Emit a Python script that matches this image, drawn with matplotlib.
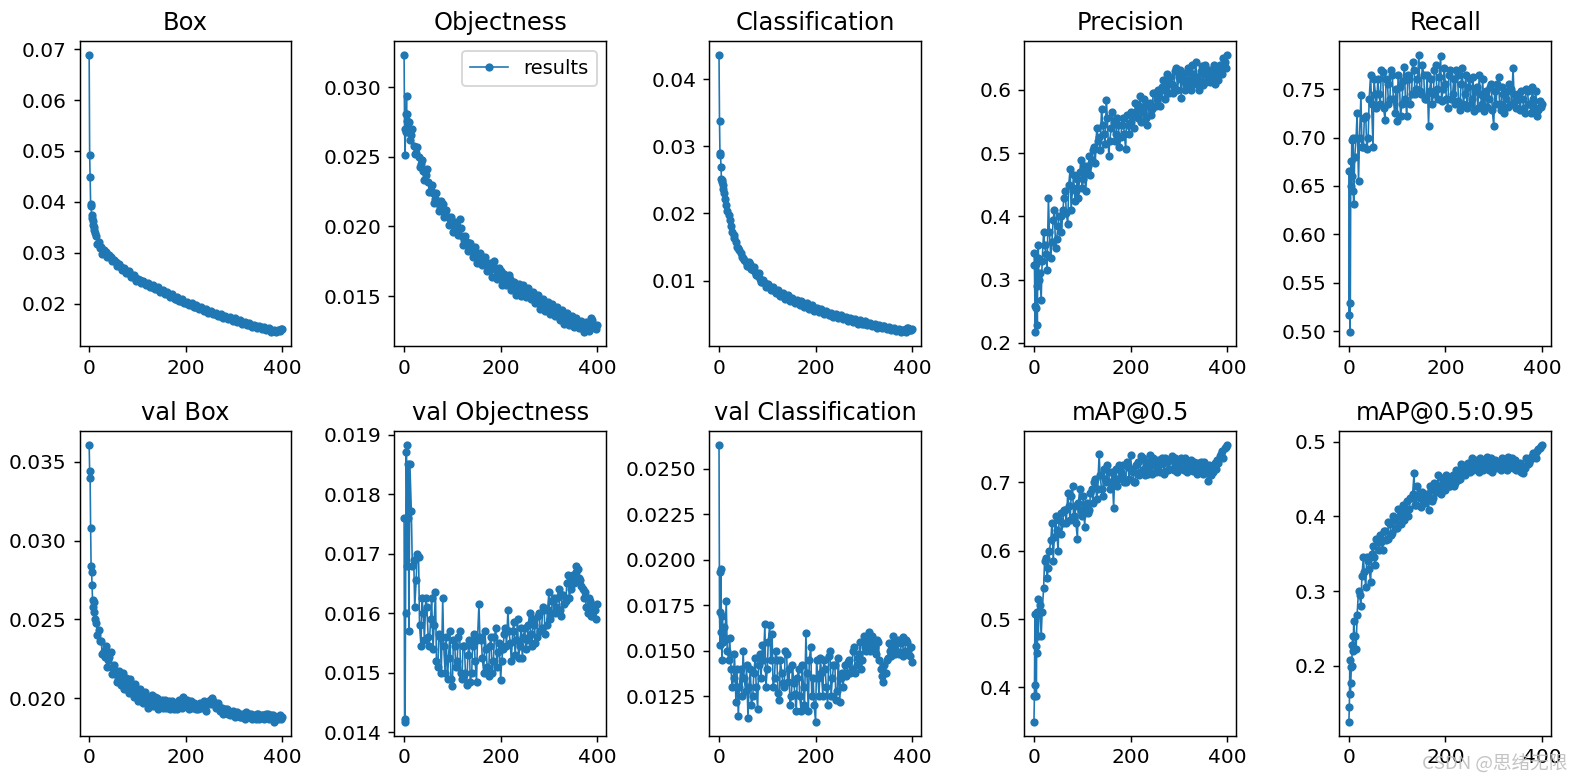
import matplotlib
matplotlib.use("Agg")
import matplotlib.pyplot as plt
from matplotlib.ticker import MultipleLocator

# epochs sampled from the training log: every epoch at the start, then two interleaved samples every 5
epochs = list(range(10)) + list(range(10, 400, 5)) + [399]
epochs_b = list(range(12, 400, 5))

titles = ['Box', 'Objectness', 'Classification', 'Precision', 'Recall',
          'val Box', 'val Objectness', 'val Classification', 'mAP@0.5', 'mAP@0.5:0.95']
tick_steps = [0.01, 0.005, 0.01, 0.1, 0.05, 0.005, 0.001, 0.0025, 0.1, 0.1]

box = [0.0688, 0.0492, 0.0449, 0.0396, 0.0392, 0.0374, 0.0368, 0.0362, 0.0355, 0.0350,
       0.0345, 0.0333, 0.0321, 0.0312, 0.0306, 0.0301, 0.0296, 0.0292, 0.0285, 0.0281,
       0.0276, 0.0272, 0.0268, 0.0266, 0.0262, 0.0258, 0.0255, 0.0251, 0.0248, 0.0246,
       0.0243, 0.0240, 0.0238, 0.0235, 0.0233, 0.0231, 0.0229, 0.0227, 0.0225, 0.0223,
       0.0221, 0.0218, 0.0216, 0.0213, 0.0210, 0.0208, 0.0206, 0.0204, 0.0202, 0.0200,
       0.0199, 0.0196, 0.0194, 0.0192, 0.0191, 0.0189, 0.0187, 0.0185, 0.0183, 0.0181,
       0.0180, 0.0178, 0.0176, 0.0175, 0.0173, 0.0172, 0.0171, 0.0170, 0.0169, 0.0168,
       0.0166, 0.0164, 0.0162, 0.0160, 0.0159, 0.0158, 0.0157, 0.0156, 0.0155, 0.0154,
       0.0152, 0.0151, 0.0150, 0.0148, 0.0147, 0.0147, 0.0146, 0.0147,
       0.0150]
box_b = [0.0338, 0.0318, 0.0310, 0.0298, 0.0300, 0.0291, 0.0295, 0.0283, 0.0286, 0.0275,
         0.0278, 0.0267, 0.0271, 0.0260, 0.0264, 0.0253, 0.0257, 0.0245, 0.0249, 0.0241,
         0.0245, 0.0237, 0.0241, 0.0232, 0.0236, 0.0228, 0.0232, 0.0223, 0.0227, 0.0220,
         0.0223, 0.0214, 0.0219, 0.0210, 0.0213, 0.0205, 0.0209, 0.0201, 0.0204, 0.0197,
         0.0201, 0.0193, 0.0197, 0.0189, 0.0194, 0.0186, 0.0190, 0.0182, 0.0186, 0.0179,
         0.0182, 0.0175, 0.0179, 0.0172, 0.0176, 0.0169, 0.0174, 0.0167, 0.0171, 0.0165,
         0.0168, 0.0161, 0.0165, 0.0158, 0.0162, 0.0155, 0.0159, 0.0153, 0.0157, 0.0151,
         0.0154, 0.0148, 0.0152, 0.0145, 0.0149, 0.0144, 0.0148, 0.0151]

objectness = [0.0323, 0.0270, 0.0251, 0.0268, 0.0281, 0.0294, 0.0276, 0.0281, 0.0270, 0.0275,
              0.0275, 0.0266, 0.0258, 0.0253, 0.0250, 0.0245, 0.0240, 0.0237, 0.0232, 0.0226,
              0.0224, 0.0220, 0.0218, 0.0214, 0.0216, 0.0210, 0.0207, 0.0205, 0.0201, 0.0203,
              0.0197, 0.0205, 0.0193, 0.0190, 0.0189, 0.0186, 0.0184, 0.0182, 0.0180, 0.0179,
              0.0177, 0.0175, 0.0174, 0.0172, 0.0170, 0.0172, 0.0169, 0.0166, 0.0168, 0.0165,
              0.0163, 0.0160, 0.0162, 0.0158, 0.0155, 0.0157, 0.0154, 0.0156, 0.0153, 0.0155,
              0.0151, 0.0149, 0.0150, 0.0147, 0.0145, 0.0146, 0.0143, 0.0144, 0.0142, 0.0140,
              0.0141, 0.0139, 0.0137, 0.0138, 0.0135, 0.0136, 0.0133, 0.0134, 0.0131, 0.0132,
              0.0130, 0.0128, 0.0126, 0.0129, 0.0127, 0.0131, 0.0133, 0.0128,
              0.0129]
objectness_b = [0.0262, 0.0270, 0.0252, 0.0257, 0.0243, 0.0248, 0.0233, 0.0241, 0.0225, 0.0230,
                0.0217, 0.0224, 0.0211, 0.0218, 0.0207, 0.0212, 0.0201, 0.0207, 0.0196, 0.0200,
                0.0194, 0.0199, 0.0187, 0.0193, 0.0182, 0.0188, 0.0178, 0.0185, 0.0174, 0.0181,
                0.0172, 0.0178, 0.0168, 0.0174, 0.0164, 0.0175, 0.0162, 0.0170, 0.0158, 0.0166,
                0.0158, 0.0165, 0.0154, 0.0160, 0.0151, 0.0159, 0.0150, 0.0158, 0.0149, 0.0156,
                0.0148, 0.0153, 0.0145, 0.0151, 0.0141, 0.0148, 0.0139, 0.0146, 0.0137, 0.0144,
                0.0136, 0.0142, 0.0133, 0.0140, 0.0130, 0.0138, 0.0129, 0.0136, 0.0128, 0.0134,
                0.0127, 0.0132, 0.0124, 0.0131, 0.0125, 0.0134, 0.0129, 0.0126]

classification = [0.0436, 0.0338, 0.0287, 0.0290, 0.0269, 0.0252, 0.0250, 0.0247, 0.0243, 0.0236,
                  0.0230, 0.0213, 0.0198, 0.0182, 0.0168, 0.0157, 0.0149, 0.0141, 0.0133, 0.0127,
                  0.0121, 0.0124, 0.0116, 0.0113, 0.0107, 0.0103, 0.0098, 0.0096, 0.0092, 0.0090,
                  0.0088, 0.0085, 0.0083, 0.0080, 0.0078, 0.0076, 0.0075, 0.0073, 0.0072, 0.0070,
                  0.0068, 0.0067, 0.0070, 0.0063, 0.0062, 0.0064, 0.0059, 0.0060, 0.0057, 0.0056,
                  0.0055, 0.0053, 0.0052, 0.0051, 0.0049, 0.0050, 0.0047, 0.0048, 0.0046, 0.0045,
                  0.0044, 0.0043, 0.0042, 0.0042, 0.0040, 0.0039, 0.0040, 0.0037, 0.0036, 0.0038,
                  0.0035, 0.0034, 0.0034, 0.0033, 0.0032, 0.0031, 0.0032, 0.0030, 0.0030, 0.0029,
                  0.0028, 0.0027, 0.0026, 0.0025, 0.0027, 0.0025, 0.0029, 0.0027,
                  0.0028]
classification_b = [0.0222, 0.0204, 0.0190, 0.0173, 0.0163, 0.0150, 0.0146, 0.0135, 0.0131, 0.0121,
                    0.0127, 0.0117, 0.0120, 0.0108, 0.0111, 0.0098, 0.0101, 0.0091, 0.0095, 0.0086,
                    0.0090, 0.0081, 0.0086, 0.0077, 0.0081, 0.0073, 0.0078, 0.0070, 0.0074, 0.0067,
                    0.0071, 0.0064, 0.0068, 0.0060, 0.0066, 0.0058, 0.0063, 0.0055, 0.0059, 0.0053,
                    0.0057, 0.0050, 0.0055, 0.0048, 0.0052, 0.0046, 0.0050, 0.0044, 0.0048, 0.0042,
                    0.0046, 0.0040, 0.0044, 0.0038, 0.0042, 0.0036, 0.0041, 0.0035, 0.0039, 0.0034,
                    0.0037, 0.0032, 0.0036, 0.0030, 0.0034, 0.0029, 0.0033, 0.0028, 0.0031, 0.0027,
                    0.0030, 0.0025, 0.0028, 0.0023, 0.0026, 0.0024, 0.0030, 0.0026]

precision = [0.343, 0.324, 0.258, 0.217, 0.325, 0.255, 0.290, 0.229, 0.335, 0.355,
             0.300, 0.268, 0.375, 0.340, 0.430, 0.335, 0.395, 0.350, 0.385, 0.400,
             0.410, 0.440, 0.388, 0.475, 0.445, 0.425, 0.460, 0.470, 0.445, 0.480,
             0.470, 0.495, 0.490, 0.510, 0.540, 0.525, 0.570, 0.530, 0.584, 0.495,
             0.540, 0.550, 0.530, 0.545, 0.525, 0.555, 0.507, 0.545, 0.550, 0.560,
             0.580, 0.555, 0.590, 0.565, 0.575, 0.545, 0.580, 0.570, 0.595, 0.585,
             0.590, 0.605, 0.600, 0.625, 0.595, 0.610, 0.605, 0.635, 0.620, 0.587,
             0.625, 0.610, 0.635, 0.600, 0.625, 0.645, 0.615, 0.630, 0.608, 0.640,
             0.620, 0.612, 0.625, 0.610, 0.630, 0.640, 0.625, 0.645,
             0.655]
precision_b = [0.310, 0.330, 0.355, 0.315, 0.375, 0.360, 0.410, 0.365, 0.400, 0.375,
               0.430, 0.405, 0.450, 0.410, 0.465, 0.440, 0.430, 0.490, 0.460, 0.440,
               0.480, 0.465, 0.505, 0.485, 0.520, 0.505, 0.545, 0.515, 0.555, 0.520,
               0.565, 0.520, 0.555, 0.510, 0.545, 0.530, 0.560, 0.530, 0.565, 0.540,
               0.565, 0.575, 0.550, 0.585, 0.555, 0.575, 0.560, 0.595, 0.575, 0.600,
               0.575, 0.615, 0.585, 0.610, 0.620, 0.595, 0.630, 0.600, 0.632, 0.615,
               0.600, 0.628, 0.615, 0.640, 0.610, 0.620, 0.600, 0.638, 0.625, 0.612,
               0.632, 0.620, 0.640, 0.628, 0.615, 0.630, 0.650, 0.635]

recall = [0.517, 0.665, 0.499, 0.529, 0.676, 0.650, 0.697, 0.660, 0.700, 0.645,
          0.631, 0.700, 0.655, 0.744, 0.690, 0.722, 0.700, 0.765, 0.690, 0.745,
          0.760, 0.735, 0.768, 0.718, 0.755, 0.740, 0.765, 0.725, 0.717, 0.752,
          0.735, 0.773, 0.722, 0.760, 0.745, 0.770, 0.750, 0.785, 0.745, 0.765,
          0.740, 0.712, 0.760, 0.745, 0.775, 0.740, 0.784, 0.750, 0.755, 0.730,
          0.770, 0.745, 0.735, 0.765, 0.728, 0.772, 0.745, 0.730, 0.760, 0.740,
          0.727, 0.752, 0.765, 0.735, 0.727, 0.748, 0.740, 0.755, 0.712, 0.735,
          0.762, 0.728, 0.745, 0.740, 0.732, 0.750, 0.772, 0.738, 0.745, 0.728,
          0.740, 0.725, 0.748, 0.735, 0.752, 0.730, 0.722, 0.738,
          0.735]
recall_b = [0.680, 0.725, 0.700, 0.690, 0.720, 0.688, 0.740, 0.735, 0.760, 0.730,
            0.745, 0.770, 0.730, 0.760, 0.735, 0.770, 0.740, 0.750, 0.765, 0.722,
            0.758, 0.740, 0.765, 0.735, 0.778, 0.745, 0.760, 0.748, 0.775, 0.740,
            0.765, 0.748, 0.735, 0.770, 0.750, 0.762, 0.738, 0.772, 0.740, 0.765,
            0.740, 0.760, 0.770, 0.738, 0.755, 0.735, 0.765, 0.752, 0.735, 0.762,
            0.748, 0.730, 0.745, 0.760, 0.742, 0.732, 0.752, 0.728, 0.748, 0.755,
            0.735, 0.752, 0.725, 0.748, 0.755, 0.735, 0.745, 0.730, 0.740, 0.748,
            0.730, 0.750, 0.735, 0.725, 0.740, 0.748, 0.728, 0.732]

val_box = [0.0361, 0.0344, 0.0340, 0.0308, 0.0284, 0.0280, 0.0272, 0.0262, 0.0258, 0.0261,
           0.0255, 0.0248, 0.0243, 0.0236, 0.0230, 0.0233, 0.0224, 0.0229, 0.0219, 0.0216,
           0.0213, 0.0208, 0.0216, 0.0210, 0.0205, 0.0212, 0.0207, 0.0209, 0.0203, 0.0206,
           0.0201, 0.0204, 0.0198, 0.0196, 0.0202, 0.0197, 0.0200, 0.0195, 0.0199, 0.0196,
           0.0194, 0.0198, 0.0195, 0.0193, 0.0197, 0.0194, 0.0196, 0.0201, 0.0197, 0.0195,
           0.0198, 0.0194, 0.0196, 0.0193, 0.0197, 0.0195, 0.0194, 0.0196, 0.0199, 0.0200,
           0.0197, 0.0195, 0.0192, 0.0194, 0.0191, 0.0193, 0.0192, 0.0190, 0.0191, 0.0189,
           0.0190, 0.0188, 0.0189, 0.0191, 0.0188, 0.0190, 0.0189, 0.0187, 0.0190, 0.0188,
           0.0189, 0.0188, 0.0190, 0.0188, 0.0189, 0.0186, 0.0188, 0.0189,
           0.0188]
val_box_b = [0.0250, 0.0240, 0.0236, 0.0228, 0.0226, 0.0220, 0.0226, 0.0215, 0.0221, 0.0210,
             0.0217, 0.0211, 0.0206, 0.0213, 0.0203, 0.0208, 0.0201, 0.0204, 0.0198, 0.0202,
             0.0197, 0.0200, 0.0194, 0.0199, 0.0195, 0.0201, 0.0193, 0.0198, 0.0194, 0.0199,
             0.0197, 0.0193, 0.0198, 0.0195, 0.0193, 0.0199, 0.0194, 0.0196, 0.0199, 0.0193,
             0.0195, 0.0197, 0.0193, 0.0196, 0.0194, 0.0198, 0.0192, 0.0197, 0.0196, 0.0198,
             0.0194, 0.0197, 0.0194, 0.0190, 0.0193, 0.0190, 0.0189, 0.0192, 0.0188, 0.0191,
             0.0188, 0.0190, 0.0187, 0.0189, 0.0190, 0.0187, 0.0188, 0.0190, 0.0187, 0.0189,
             0.0187, 0.0190, 0.0187, 0.0189, 0.0185, 0.0188, 0.0187, 0.0187]

val_objectness = [0.01760, 0.01422, 0.01418, 0.01600, 0.01870, 0.01883, 0.01760, 0.01680, 0.01850, 0.01760,
                  0.01570, 0.01772, 0.01690, 0.01655, 0.01695, 0.01545, 0.01600, 0.01625, 0.01560, 0.01590,
                  0.01540, 0.01635, 0.01510, 0.01560, 0.01625, 0.01500, 0.01490, 0.01570, 0.01478, 0.01545,
                  0.01520, 0.01570, 0.01490, 0.01545, 0.01480, 0.01555, 0.01500, 0.01565, 0.01485, 0.01615,
                  0.01555, 0.01500, 0.01540, 0.01495, 0.01560, 0.01520, 0.01575, 0.01535, 0.01488, 0.01540,
                  0.01575, 0.01605, 0.01550, 0.01570, 0.01530, 0.01590, 0.01545, 0.01525, 0.01575, 0.01555,
                  0.01600, 0.01545, 0.01580, 0.01560, 0.01600, 0.01575, 0.01605, 0.01580, 0.01635, 0.01600,
                  0.01625, 0.01610, 0.01640, 0.01595, 0.01630, 0.01620, 0.01665, 0.01640, 0.01665, 0.01680,
                  0.01675, 0.01655, 0.01640, 0.01635, 0.01600, 0.01620, 0.01595, 0.01605,
                  0.01615]
val_objectness_b = [0.01850, 0.01680, 0.01610, 0.01700, 0.01580, 0.01625, 0.01555, 0.01610, 0.01545, 0.01625,
                    0.01580, 0.01520, 0.01565, 0.01500, 0.01545, 0.01560, 0.01525, 0.01490, 0.01555, 0.01510,
                    0.01560, 0.01500, 0.01545, 0.01500, 0.01530, 0.01485, 0.01545, 0.01520, 0.01555, 0.01560,
                    0.01525, 0.01570, 0.01510, 0.01545, 0.01500, 0.01560, 0.01510, 0.01550, 0.01520, 0.01565,
                    0.01545, 0.01570, 0.01520, 0.01585, 0.01555, 0.01525, 0.01575, 0.01560, 0.01540, 0.01580,
                    0.01565, 0.01590, 0.01550, 0.01595, 0.01570, 0.01610, 0.01565, 0.01605, 0.01590, 0.01620,
                    0.01600, 0.01625, 0.01605, 0.01630, 0.01615, 0.01650, 0.01625, 0.01655, 0.01650, 0.01670,
                    0.01660, 0.01645, 0.01625, 0.01610, 0.01625, 0.01595, 0.01610, 0.01590]

val_classification = [0.02631, 0.01710, 0.01530, 0.01930, 0.01950, 0.01600, 0.01450, 0.01690, 0.01580, 0.01550,
                      0.01630, 0.01770, 0.01450, 0.01400, 0.01350, 0.01220, 0.01140, 0.01400, 0.01500, 0.01280,
                      0.01130, 0.01400, 0.01250, 0.01460, 0.01180, 0.01480, 0.01530, 0.01645, 0.01400, 0.01640,
                      0.01590, 0.01350, 0.01450, 0.01230, 0.01380, 0.01300, 0.01480, 0.01400, 0.01250, 0.01320,
                      0.01170, 0.01400, 0.01170, 0.01300, 0.01595, 0.01170, 0.01520, 0.01350, 0.01110, 0.01350,
                      0.01460, 0.01250, 0.01400, 0.01200, 0.01500, 0.01350, 0.01420, 0.01280, 0.01220, 0.01380,
                      0.01420, 0.01380, 0.01450, 0.01400, 0.01520, 0.01420, 0.01480, 0.01400, 0.01580, 0.01500,
                      0.01600, 0.01530, 0.01560, 0.01480, 0.01550, 0.01400, 0.01330, 0.01380, 0.01460, 0.01500,
                      0.01580, 0.01480, 0.01560, 0.01490, 0.01575, 0.01500, 0.01550, 0.01470,
                      0.01440]
val_classification_b = [0.01560, 0.01500, 0.01570, 0.01300, 0.01480, 0.01400, 0.01300, 0.01250, 0.01350, 0.01420,
                        0.01300, 0.01200, 0.01380, 0.01300, 0.01420, 0.01350, 0.01450, 0.01300, 0.01550, 0.01450,
                        0.01300, 0.01500, 0.01270, 0.01450, 0.01320, 0.01500, 0.01330, 0.01200, 0.01420, 0.01260,
                        0.01350, 0.01250, 0.01420, 0.01200, 0.01380, 0.01450, 0.01250, 0.01200, 0.01450, 0.01250,
                        0.01380, 0.01450, 0.01300, 0.01470, 0.01250, 0.01420, 0.01230, 0.01460, 0.01350, 0.01300,
                        0.01360, 0.01440, 0.01380, 0.01500, 0.01380, 0.01460, 0.01550, 0.01450, 0.01520, 0.01560,
                        0.01500, 0.01580, 0.01520, 0.01560, 0.01450, 0.01360, 0.01420, 0.01450, 0.01540, 0.01470,
                        0.01520, 0.01550, 0.01480, 0.01540, 0.01470, 0.01560, 0.01500, 0.01520]

map50 = [0.350, 0.388, 0.508, 0.404, 0.460, 0.388, 0.510, 0.450, 0.530, 0.475,
         0.510, 0.475, 0.545, 0.590, 0.575, 0.615, 0.585, 0.650, 0.600, 0.655,
         0.640, 0.660, 0.685, 0.645, 0.695, 0.665, 0.617, 0.690, 0.650, 0.635,
         0.670, 0.660, 0.690, 0.700, 0.675, 0.742, 0.690, 0.720, 0.700, 0.715,
         0.700, 0.663, 0.720, 0.705, 0.715, 0.725, 0.700, 0.722, 0.740, 0.715,
         0.700, 0.730, 0.715, 0.735, 0.710, 0.720, 0.740, 0.712, 0.730, 0.720,
         0.725, 0.735, 0.712, 0.730, 0.720, 0.738, 0.718, 0.728, 0.722, 0.735,
         0.718, 0.730, 0.722, 0.733, 0.716, 0.728, 0.720, 0.730, 0.712, 0.725,
         0.702, 0.722, 0.715, 0.728, 0.732, 0.738, 0.745, 0.750,
         0.755]
map50_b = [0.520, 0.510, 0.585, 0.560, 0.600, 0.640, 0.620, 0.630, 0.645, 0.625,
           0.660, 0.640, 0.665, 0.680, 0.650, 0.640, 0.670, 0.660, 0.680, 0.665,
           0.655, 0.685, 0.670, 0.705, 0.690, 0.710, 0.680, 0.705, 0.725, 0.690,
           0.715, 0.705, 0.695, 0.725, 0.710, 0.700, 0.730, 0.705, 0.720, 0.700,
           0.725, 0.710, 0.738, 0.720, 0.730, 0.712, 0.725, 0.735, 0.715, 0.732,
           0.715, 0.728, 0.735, 0.718, 0.732, 0.720, 0.735, 0.715, 0.730, 0.720,
           0.735, 0.715, 0.728, 0.720, 0.730, 0.712, 0.728, 0.718, 0.730, 0.715,
           0.725, 0.710, 0.725, 0.720, 0.728, 0.742, 0.735, 0.752]

map50_95 = [0.125, 0.145, 0.208, 0.162, 0.177, 0.198, 0.200, 0.228, 0.240, 0.220,
            0.260, 0.222, 0.300, 0.280, 0.345, 0.305, 0.340, 0.312, 0.360, 0.335,
            0.365, 0.375, 0.355, 0.380, 0.370, 0.390, 0.378, 0.395, 0.385, 0.400,
            0.405, 0.395, 0.420, 0.410, 0.425, 0.458, 0.415, 0.430, 0.412, 0.425,
            0.420, 0.408, 0.435, 0.425, 0.440, 0.455, 0.430, 0.445, 0.435, 0.450,
            0.440, 0.455, 0.445, 0.460, 0.450, 0.465, 0.455, 0.470, 0.460, 0.478,
            0.465, 0.472, 0.460, 0.475, 0.468, 0.470, 0.462, 0.478, 0.470, 0.465,
            0.472, 0.462, 0.475, 0.468, 0.480, 0.470, 0.465, 0.475, 0.468, 0.472,
            0.458, 0.465, 0.470, 0.475, 0.478, 0.482, 0.488, 0.492,
            0.496]
map50_95_b = [0.240, 0.268, 0.295, 0.320, 0.325, 0.345, 0.330, 0.350, 0.345, 0.370,
              0.355, 0.365, 0.380, 0.368, 0.392, 0.375, 0.400, 0.385, 0.410, 0.390,
              0.415, 0.410, 0.400, 0.425, 0.430, 0.415, 0.440, 0.425, 0.432, 0.418,
              0.430, 0.440, 0.420, 0.445, 0.432, 0.440, 0.452, 0.438, 0.455, 0.440,
              0.452, 0.440, 0.462, 0.448, 0.470, 0.458, 0.465, 0.472, 0.468, 0.462,
              0.475, 0.465, 0.478, 0.462, 0.472, 0.480, 0.468, 0.460, 0.476, 0.472,
              0.465, 0.478, 0.470, 0.462, 0.472, 0.478, 0.468, 0.462, 0.470, 0.460,
              0.468, 0.478, 0.472, 0.480, 0.485, 0.478, 0.490, 0.494]

series = [(box, box_b), (objectness, objectness_b), (classification, classification_b),
          (precision, precision_b), (recall, recall_b),
          (val_box, val_box_b), (val_objectness, val_objectness_b),
          (val_classification, val_classification_b), (map50, map50_b), (map50_95, map50_95_b)]

plt.rcParams['xtick.labelsize'] = 11
plt.rcParams['ytick.labelsize'] = 11

fig, ax = plt.subplots(2, 5, figsize=(12, 780 / 131.5), dpi=131.5)
fig.subplots_adjust(left=0.0504, right=0.983, top=0.947, bottom=0.057, wspace=0.486, hspace=0.278)
ax = ax.ravel()
for i, (a, b) in enumerate(series):
    pts = sorted(zip(epochs + epochs_b, a + b))
    x = [p[0] for p in pts]
    y = [p[1] for p in pts]
    ax[i].plot(x, y, marker='.', label='results', linewidth=0.9, markersize=7, color='#1f77b4')
    ax[i].set_title(titles[i], fontsize=13.2)
    ax[i].yaxis.set_major_locator(MultipleLocator(tick_steps[i]))
    ax[i].xaxis.set_major_locator(MultipleLocator(200))
ax[1].legend(fontsize=10.6)

fig.text(0.9935, 0.02, 'CSDN @思绪无限', ha='right', va='center', fontsize=10.2,
         color='#bdbdbd', alpha=0.9, family=['Noto Sans CJK SC', 'DejaVu Sans'])

fig.savefig('out.png', dpi=131.5)
